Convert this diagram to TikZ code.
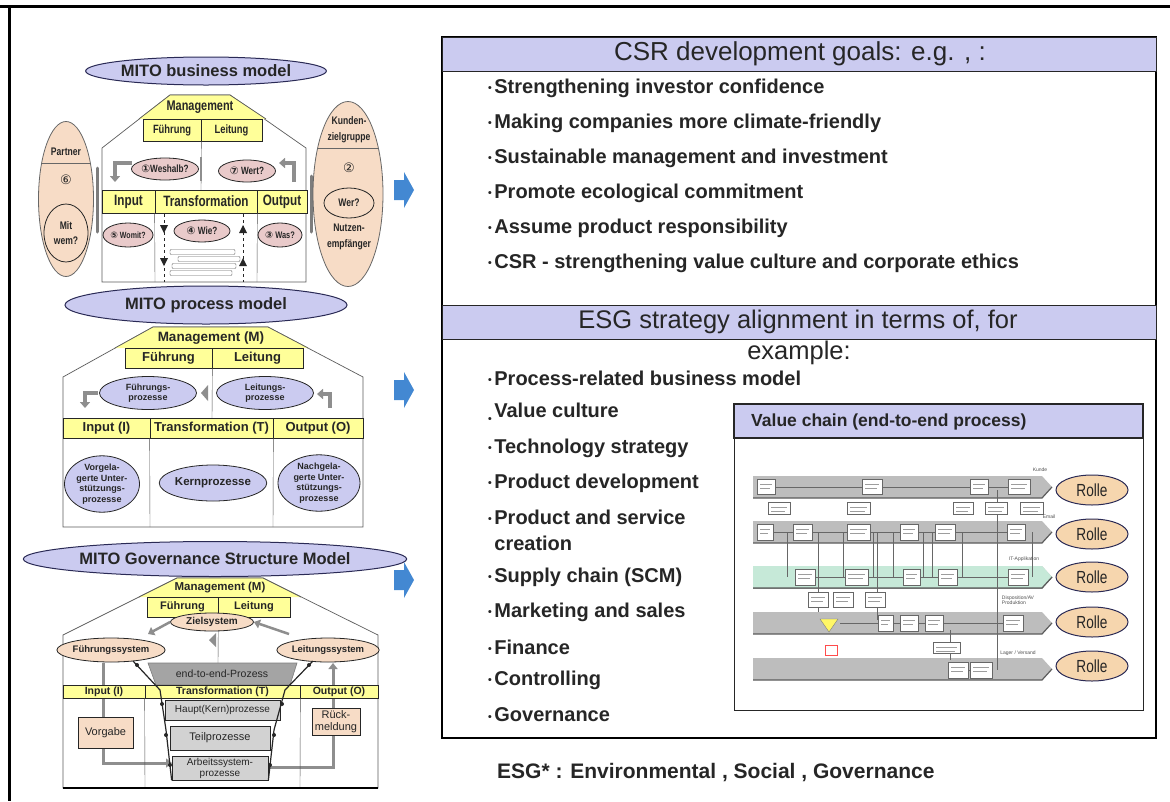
\documentclass[tikz,border=0pt]{standalone}
\usepackage{fontspec}
\setmainfont{Liberation Sans}
\newfontfamily\narrowsf[FakeStretch=0.78]{Liberation Sans}
\newfontfamily\symfont{DejaVu Sans}
\usetikzlibrary{shapes.geometric,arrows.meta}

\definecolor{lav}{HTML}{CBCBF0}
\definecolor{yel}{HTML}{FFFF99}
\definecolor{peach}{HTML}{F7DCC6}
\definecolor{rose}{HTML}{E9CACA}
\definecolor{navy}{HTML}{2A2A55}
\definecolor{ink}{HTML}{262626}
\definecolor{arrblue}{HTML}{4388D2}
\definecolor{lanegray}{HTML}{BDBDBD}
\definecolor{lanegreen}{HTML}{C6E9D8}
\definecolor{rollefill}{HTML}{F6D6AE}
\definecolor{boxgray}{HTML}{D2D2D2}
\definecolor{pipegray}{HTML}{8E8E8E}

\newcommand{\fsz}[2]{\fontsize{#1}{#2}\selectfont}
\newcommand{\bul}{\raisebox{1.5pt}{\fsz{10.5}{10}\textbullet}\hspace{2.5pt}}
\newcommand{\cnum}[1]{{\symfont #1}}

\begin{document}
\begin{tikzpicture}[x=1pt,y=-1pt,
  every node/.append style={text=ink},
  title/.style={ellipse,draw=navy,line width=1pt,fill=lav,inner sep=0pt,font=\bfseries\fsz{16.5}{18}},
  roof/.style={draw=ink!75,line width=0.7pt},
  ybox/.style={draw=ink,line width=0.7pt,fill=yel,inner sep=0pt},
  mone/.style={font=\narrowsf\bfseries\fsz{12}{13},inner sep=0pt,align=center},
  qell/.style={ellipse,draw=ink,line width=0.8pt,fill=rose,inner sep=0pt,font=\narrowsf\bfseries\fsz{10.5}{12}},
  pell/.style={ellipse,draw=ink!70,line width=0.8pt,fill=peach,inner sep=0pt,align=center},
  lell/.style={ellipse,draw=ink,line width=0.8pt,fill=lav,inner sep=0pt,align=center,font=\bfseries\fsz{9}{10.5}},
  bentarr/.style={draw=pipegray,line width=3.5pt,-{Triangle[length=6pt,width=10pt]}},
  pipe/.style={draw=pipegray,line width=3pt,-{Triangle[length=6pt,width=9pt]}},
  gbox/.style={draw=ink,line width=0.7pt,fill=boxgray,inner sep=0pt,align=center,font=\fsz{10}{11}},
  obox/.style={draw=ink,line width=0.7pt,fill=peach,inner sep=0pt,align=center,font=\fsz{11}{12}},
  bitem/.style={anchor=west,font=\bfseries\fsz{20}{26},inner sep=0pt},
  band/.style={fill=lav,draw=ink,line width=1pt},
  rolleell/.style={ellipse,draw=navy,line width=1pt,fill=rollefill,minimum width=72pt,minimum height=30pt,inner sep=0pt,font=\narrowsf\fsz{17.5}{18}},
  mini/.style={draw=ink!70,fill=white,line width=0.4pt},
  tiny/.style={font=\fsz{5}{5},inner sep=0pt,text=ink!80}
]
\useasboundingbox (0,0) rectangle (1170,801);
\fill[white] (0,0) rectangle (1170,801);

% frame
\draw[line width=3pt] (0,6) -- (1170,6);
\draw[line width=3pt] (9,6) -- (9,801);

%%%% MITO business model
\draw[roof,fill=white] (102,282) -- (102,148) -- (170,95) -- (230,95) -- (306,148) -- (306,282) -- cycle;
\fill[yel] (139,119) -- (170,95) -- (230,95) -- (266,119) -- cycle;
\draw[roof] (139,119) -- (170,95) -- (230,95) -- (266,119);
\node[mone,font=\narrowsf\bfseries\fsz{14}{14}] (bmman) at (200,107) {Management};
\node[ybox,mone,minimum width=58pt,minimum height=22pt] (bmfue) at (172,130) {Führung};
\node[ybox,mone,minimum width=61pt,minimum height=22pt] (bmlei) at (231.5,130) {Leitung};
\draw[ink!80] (bmfue.south east) -- (201,190);
\draw[pipegray,line width=2.5pt] (201,157) -- (201,181);
\node[ybox,mone,font=\narrowsf\bfseries\fsz{15}{15},minimum width=53pt,minimum height=23pt] (bmin) at (128.5,201.5) {Input};
\node[ybox,mone,font=\narrowsf\bfseries\fsz{15}{15},minimum width=102pt,minimum height=23pt] (bmtr) at (206,201.5) {Transformation};
\node[ybox,mone,font=\narrowsf\bfseries\fsz{15}{15},minimum width=50pt,minimum height=23pt] (bmout) at (282,201.5) {Output};
\draw[ink!80] (bmtr.south west) -- (155,282);
\draw[ink!80] (bmtr.south east) -- (257,282);
\draw[ink,dashed,line width=0.8pt] (164,214) -- (164,282);
\draw[ink,dashed,line width=0.8pt] (243,214) -- (243,282);
\foreach \y in {229,262} {
  \fill[ink] (160,\y-4) -- (168,\y-4) -- (164,\y+4) -- cycle;
  \fill[ink] (239,\y+4) -- (247,\y+4) -- (243,\y-4) -- cycle;
}
\foreach \y/\a/\b in {252/170/235, 259/178/240, 266/172/236, 273/170/232}
  \draw[mini,rounded corners=1pt] (\a,\y-2.5) rectangle (\b,\y+2.5);
\draw[bentarr] (132,163) -- (115,163) -- (115,182);
\draw[bentarr] (294,182) -- (294,163) -- (279,163);
\node[qell,minimum width=62pt,minimum height=22pt] (bmwes) at (165,169) {\cnum{①}Weshalb?};
\node[qell,minimum width=57pt,minimum height=22pt] (bmwert) at (247,171) {\cnum{⑦} Wert?};
\node[qell,minimum width=50pt,minimum height=24pt,font=\narrowsf\bfseries\fsz{9}{10}] (bmwomit) at (128,235) {\cnum{⑤} Womit?};
\node[qell,minimum width=56pt,minimum height=22pt] (bmwie) at (202,231) {\cnum{④} Wie?};
\node[qell,minimum width=44pt,minimum height=24pt,font=\narrowsf\bfseries\fsz{9.5}{10}] (bmwas) at (280,235) {\cnum{③} Was?};
% partner / customers
\draw[ink!60,line width=3pt,line cap=round] (97,168) -- (97,232);
\draw[ink!60,line width=3pt,line cap=round] (311,176) -- (311,232);
\node[pell,minimum width=55pt,minimum height=155pt] (bmpart) at (66,199) {};
\draw[ink!70] (41.6,163) -- (90.4,163);
\node[mone,font=\narrowsf\bfseries\fsz{11}{12}] (bmparttxt) at (66,152) {Partner};
\node[mone,font=\fsz{13}{13}] (bmsix) at (66,180) {\cnum{⑥}};
\node[pell,draw=ink,minimum width=44pt,minimum height=58pt,font=\narrowsf\bfseries\fsz{11}{15}] (bmmitwem) at (66,233) {Mit\\wem?};
\node[pell,minimum width=70pt,minimum height=185pt] (bmkunde) at (348,194) {};
\draw[ink!70] (317.6,148) -- (378.4,148);
\node[mone,font=\narrowsf\bfseries\fsz{11}{16}] (bmkundetxt) at (349,130) {Kunden-\\zielgruppe};
\node[mone,font=\fsz{13}{13}] (bmtwo) at (349,168) {\cnum{②}};
\node[pell,draw=ink,minimum width=50pt,minimum height=30pt,font=\narrowsf\bfseries\fsz{11}{12}] (bmwer) at (349,203) {Wer?};
\node[mone,font=\narrowsf\bfseries\fsz{11}{16}] (bmnutzen) at (349,237) {Nutzen-\\empfänger};
\node[title,minimum width=218pt,minimum height=28pt] (bmtitle) at (206,71) {MITO business model};

%%%% MITO process model
\draw[roof,fill=white] (63,527) -- (63,377) -- (153,327) -- (268,327) -- (363,377) -- (363,527) -- cycle;
\fill[yel] (115,348) -- (153,327) -- (268,327) -- (308,348) -- cycle;
\draw[roof] (115,348) -- (153,327) -- (268,327) -- (308,348);
\node[font=\bfseries\fsz{13.5}{14},inner sep=0pt] (pmman) at (211,338) {Management (M)};
\node[ybox,font=\bfseries\fsz{13}{13},minimum width=87pt,minimum height=20pt] (pmfue) at (168.5,358) {Führung};
\node[ybox,font=\bfseries\fsz{13}{13},minimum width=91pt,minimum height=20pt] (pmlei) at (257.5,358) {Leitung};
\draw[ink!80] (pmfue.south east) -- (212,418);
\fill[pipegray] (208,385) -- (201,393) -- (208,401) -- cycle;
\draw[bentarr] (98,393) -- (85,393) -- (85,408);
\draw[bentarr] (330,408) -- (330,394) -- (317,394);
\node[lell,minimum width=97pt,minimum height=33pt] (pmfp) at (148,393) {Führungs-\\prozesse};
\node[lell,minimum width=97pt,minimum height=33pt] (pmlp) at (265,393) {Leitungs-\\prozesse};
\node[ybox,font=\bfseries\fsz{13}{13},minimum width=87pt,minimum height=20pt] (pmin) at (106.5,428) {Input (I)};
\node[ybox,font=\bfseries\fsz{13}{13},minimum width=123pt,minimum height=20pt] (pmtr) at (211.5,428) {Transformation (T)};
\node[ybox,font=\bfseries\fsz{13}{13},minimum width=90pt,minimum height=20pt] (pmout) at (318,428) {Output (O)};
\draw[ink!80] (pmtr.south west) -- (150,527);
\draw[ink!80] (pmtr.south east) -- (273,527);
\node[lell,minimum width=75pt,minimum height=50pt] (pmvor) at (102,484) {Vorgela-\\gerte Unter-\\stützungs-\\prozesse};
\node[lell,minimum width=103pt,minimum height=36pt,font=\bfseries\fsz{11.5}{12}] (pmkern) at (213,483) {Kernprozesse};
\node[lell,minimum width=82pt,minimum height=50pt] (pmnach) at (319,483) {Nachgela-\\gerte Unter-\\stützungs-\\prozesse};
\node[title,minimum width=282pt,minimum height=38pt] (pmtitle) at (206,305) {MITO process model};

%%%% MITO Governance Structure Model
\draw[roof,fill=white] (63,788) -- (63,635) -- (177,578) -- (263,578) -- (378,635) -- (378,788) -- cycle;
\fill[yel] (139,597) -- (177,578) -- (263,578) -- (301,597) -- cycle;
\draw[roof] (139,597) -- (177,578) -- (263,578) -- (301,597);
\node[font=\bfseries\fsz{11.5}{12},inner sep=0pt] (gmman) at (220,588) {Management (M)};
\node[ybox,font=\bfseries\fsz{11}{11},minimum width=71pt,minimum height=20pt] (gmfue) at (182.5,607) {Führung};
\node[ybox,font=\bfseries\fsz{11}{11},minimum width=72pt,minimum height=20pt] (gmlei) at (254,607) {Leitung};
\draw[ink!80] (gmfue.south east) -- (218,663);
\fill[pipegray] (216,633) -- (209,640) -- (216,647) -- cycle;
\fill[pipegray!80,draw=ink!60,line width=0.6pt] (156,685) -- (148,663) -- (297,663) -- (290,685) -- cycle;
\node[font=\fsz{10.5}{11},inner sep=0pt] (gme2e) at (222,674) {end-to-end-Prozess};
% feedback pipes run behind the bar
\draw[pipe] (103,663) -- (103,763) -- (172,763);
\draw[pipe] (268,767) -- (333,767) -- (333,663);
\node[ybox,font=\bfseries\fsz{10.5}{11},minimum width=82pt,minimum height=13pt] (gmin) at (104,691.5) {Input (I)};
\node[ybox,font=\bfseries\fsz{10.5}{11},minimum width=155pt,minimum height=13pt] (gmtr) at (222.5,691.5) {Transformation (T)};
\node[ybox,font=\bfseries\fsz{10.5}{11},minimum width=78pt,minimum height=13pt] (gmout) at (339,691.5) {Output (O)};
\draw[ink!80] (gmtr.south west) -- (145,788);
\draw[ink!80] (gmtr.south east) -- (300,788);
\node[gbox,minimum width=115pt,minimum height=20pt] (gmhaupt) at (222.5,710) {Haupt(Kern)prozesse};
\node[gbox,minimum width=100pt,minimum height=24pt,font=\fsz{11}{12}] (gmteil) at (220,738) {Teilprozesse};
\node[gbox,minimum width=96pt,minimum height=24pt] (gmarb) at (220,768) {Arbeitssystem-\\prozesse};
\node[pell,draw=ink,minimum width=83pt,minimum height=18pt,font=\bfseries\fsz{10}{10}] (gmziel) at (212,622) {Zielsystem};
\node[pell,draw=ink,minimum width=75pt,minimum height=24pt,font=\bfseries\fsz{9.5}{10}] (gmfsys) at (111,650) {Führungssystem};
\node[pell,draw=ink,minimum width=87pt,minimum height=24pt,font=\bfseries\fsz{9.5}{10}] (gmlsys) at (328,650) {Leitungssystem};
\draw[pipe,line width=2.5pt] (gmziel.west) -- (148,634);
\draw[pipe,line width=2.5pt] (289,634) -- (gmziel.east);
\draw[ink,line width=1.2pt] (133,661) -- (160,690) -- (166,730) -- (gmarb.south west);
\draw[ink,line width=1.2pt] (313,661) -- (285,690) -- (274,730) -- (gmarb.south east);
\foreach \x/\y in {137/665, 162/704, 166/735, 170/765, 309/665, 282/704, 274/735, 270/765}
  \fill[ink] (\x,\y) circle (2pt);
\node[obox,minimum width=55pt,minimum height=31pt] (gmvorgabe) at (105.5,732.5) {Vorgabe};
\node[obox,minimum width=48pt,minimum height=27pt] (gmrueck) at (336,721.5) {Rück-\\meldung};
\draw[line width=2pt] (63,788) -- (378,788);
\node[title,minimum width=336pt,minimum height=35pt] (gmtitle) at (215,559) {MITO Governance Structure Model};

%%%% blue arrows
\foreach \y in {190,390,580}
  \fill[arrblue] (394,\y-10) -- (404,\y-10) -- (404,\y-18) -- (414,\y) -- (404,\y+18) -- (404,\y+10) -- (394,\y+10) -- cycle;

%%%% right side
\draw[line width=1.2pt] (442,37) rectangle (1156,738);
\draw[band] (442,37) rectangle (1156,71);
\node[font=\fsz{26}{26},inner sep=0pt] (csrhead) at (800,54) {CSR development goals: e.g. , :};
\foreach \t [count=\i] in {Strengthening investor confidence, Making companies more climate-friendly,
  Sustainable management and investment, Promote ecological commitment,
  Assume product responsibility, CSR - strengthening value culture and corporate ethics}
  \node[bitem] (csr\i) at (488,{88+35*(\i-1)}) {\bul\t};

\draw[band] (442,305) rectangle (1156,339);
\node[font=\fsz{25.5}{26},inner sep=0pt] (esghead) at (798,322) {ESG strategy alignment in terms of, for};
\node[font=\fsz{25.5}{26},inner sep=0pt] (esghead2) at (799,353) {example:};
\node[bitem] (esg1) at (488,378) {\bul Process-related business model};
\node[bitem] (esg2) at (488,413) {\raisebox{-5pt}{\fsz{10.5}{10}\textbullet}\hspace{2.5pt}Value culture};
\foreach \t/\y [count=\i from 3] in {Technology strategy/448, Product development/483}
  \node[bitem] (esg\i) at (488,\y) {\bul\t};
\node[bitem,anchor=base west] (esg5) at (488,524) {\bul\begin{tabular}[t]{@{}l@{}}Product and service\\creation\end{tabular}};
\foreach \t/\y [count=\i from 6] in {Supply chain (SCM)/577, Marketing and sales/612, Finance/647, Controlling/680, Governance/715}
  \node[bitem] (esg\i) at (488,\y) {\bul\t};

\node[anchor=west,font=\bfseries\fsz{21}{22},inner sep=0pt] (esgnote) at (497,773) {ESG* : Environmental , Social , Governance};

%%%% value chain
\draw[line width=1pt,draw=ink] (734,404) rectangle (1143,710);
\draw[band,line width=1.5pt] (734,404) rectangle (1143,438);
\node[anchor=west,font=\bfseries\fsz{17.5}{18},inner sep=0pt] (vchead) at (751,422) {Value chain (end-to-end process)};
\foreach \y [count=\i] in {476,521,566,612,658} {
  \fill[lanegray] (753,\y) -- (1042,\y) -- (1052,\y+11) -- (1042,\y+22) -- (753,\y+22) -- cycle;
  \draw[ink!75,line width=1.2pt] (753,\y+22) -- (1042,\y+22) -- (1052,\y+11);
}
\fill[lanegreen] (753,566) -- (1042,566) -- (1052,577) -- (1042,588) -- (753,588) -- cycle;
\draw[ink!75,line width=1.2pt] (753,588) -- (1042,588) -- (1052,577);
% lane flows
\foreach \y/\a/\b in {487/775/1030, 532/757/1025, 577/795/1028, 623/840/1023, 670/948/992}
  \draw[ink!70,line width=0.4pt] (\a,\y) -- (\b,\y);
\foreach \x/\a/\b in {787/532/577, 818/532/612, 843/532/577, 873/532/577, 877/532/620, 893/532/577,
  923/532/577, 932/532/577, 962/532/577, 997/490/670, 1032/532/577, 950/630/660}
  \draw[ink!70,line width=0.4pt] (\x,\a) -- (\x,\b);
\foreach \a/\b/\c/\d in {757/775/479/494, 862/882/479/494, 970/988/479/494, 1008/1030/479/494,
  768/790/502/514, 847/870/502/514, 953/973/502/514, 985/1007/502/514, 1020/1043/502/514,
  757/773/524/540, 793/812/524/540, 847/870/524/540, 900/918/524/540, 935/955/524/540, 1007/1025/524/540,
  795/815/569/585, 845/868/569/585, 903/920/569/585, 938/957/569/585, 1008/1028/569/585,
  808/828/592/607, 833/853/592/607, 865/885/592/607,
  878/893/615/631, 900/918/615/631, 925/943/615/631, 1003/1023/615/631,
  933/960/642/653, 948/968/662/678, 970/992/662/678} {
  \draw[mini] (\a,\c) rectangle (\b,\d);
  \draw[ink!45,line width=0.5pt] (\a+3,\c+5) -- (\b-3,\c+5) (\a+3,\c+9) -- (\b-5,\c+9);
}
\fill[yellow!60,draw=ink!60,line width=0.4pt] (820,619) -- (838,619) -- (829,632) -- cycle;
\draw[red!70,fill=white,line width=0.6pt] (825,645) rectangle (837,655);
\node[tiny] (lbkunde) at (1040,470) {Kunde};
\node[tiny] (lbemail) at (1049,517) {Email};
\node[tiny] (lbit) at (1024,559) {IT-Applikation};
\node[tiny,align=left] (lbdispo) at (1018,600) {Disposition/AV\\Produktion};
\node[tiny] (lblager) at (1018,653) {Lager / Versand};
\foreach \y [count=\i] in {490,534,577,622,666}
  \node[rolleell] (rolle\i) at (1092,\y) {Rolle};
\end{tikzpicture}
\end{document}
